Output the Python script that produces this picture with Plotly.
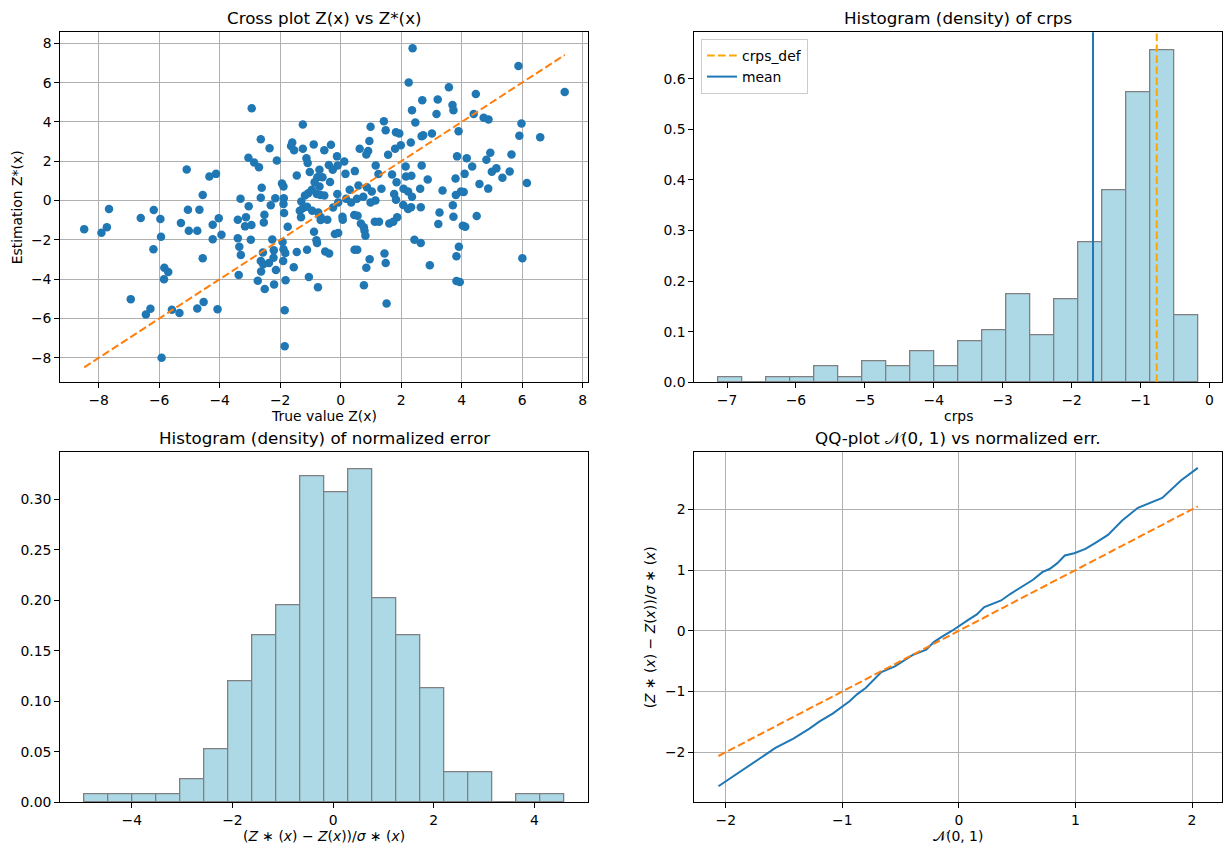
import plotly.graph_objects as go

# ---------------- data ----------------
true_z = [2.38, 5.88, 2.25, 3.58, 7.41, 4.47, 2.70, 3.21, 3.70, 3.73, 3.17, 2.36, -2.94, -1.25, 2.47, 4.40,
          4.73, 4.89, 5.98, 1.43, 0.99, 1.49, 1.83, 1.94, 3.02, 3.90, 2.68, 2.73, 5.91, 6.60, 2.32, -2.64,
          -2.35, -1.60, -1.64, -1.54, -1.25, -0.89, -0.32, -0.54, 0.95, 0.63, 0.91, 0.85, 1.57, 1.80, 1.99,
          -3.05, -2.86, -2.70, -2.11, -1.13, -1.09, -0.12, 0.12, -0.39, -0.26, -0.10, 3.85, 4.17, 4.35, 4.95,
          4.82, 5.65, 5.15, 5.00, 5.59, 5.35, 6.16, 2.15, 2.68, 1.16, 1.70, 2.16, 2.34, 2.88, 3.80, 4.10,
          4.59, 4.88, -5.09, -4.34, -4.12, -4.56, -3.31, -2.61, -2.64, -3.04, -1.94, -1.89, -2.16, -1.88,
          -2.31, -1.89, -1.45, -1.02, -0.70, -0.77, -0.60, -0.86, -0.70, -0.67, -0.54, -0.79, -1.18, -1.07,
          -0.11, -0.08, 0.18, 0.16, 0.47, 0.59, 0.54, 0.87, 1.03, 0.99, 1.15, 1.35, 1.85, 1.77, 1.83, 2.08,
          2.23, 2.36, 2.07, 2.23, 2.33, 2.63, 2.65, 3.37, 3.81, 3.98, 4.07, 3.71, 3.27, 3.73, 4.50, 3.23,
          4.04, 4.12, 2.44, 2.65, 3.91, 3.83, 2.95, 3.83, 3.94, 6.01, -8.48, -7.91, -7.73, -7.66, -6.61,
          -6.18, -5.96, -5.94, -6.19, -5.83, -5.70, -5.84, -6.94, -6.44, -6.29, -5.92, -5.58, -5.33, -5.28,
          -5.05, -5.02, -4.74, -4.67, -4.56, -4.74, -4.53, -4.07, -4.23, -4.03, -4.23, -3.94, -3.40, -3.13,
          -3.16, -2.95, -3.40, -3.35, -3.30, -2.97, -2.52, -2.54, -3.37, -2.57, -2.64, -2.56, -2.63, -2.74,
          -2.51, -2.26, -2.21, -2.22, -2.37, -2.14, -2.20, -1.92, -1.89, -1.83, -1.90, -1.82, -1.85, -1.85,
          -1.55, -1.45, -1.75, -1.87, -1.35, -1.31, -1.24, -1.11, -0.94, -0.74, -0.66, -0.44, -0.66, -0.88,
          -0.80, -0.78, -1.11, -1.05, -0.75, -0.51, -0.38, -0.19, -0.08, 0.06, 0.07, 0.45, 0.56, 0.67, 0.77,
          0.79, 0.82, 0.46, 0.55, 0.96, 0.85, 0.77, 1.13, 1.27, 1.45, 1.49, 1.52, 1.61, 1.74, 1.87,
          -0.35, -0.95, 0.30, -0.25, 0.35, 1.25, -1.30, 0.75]
est_z = [7.75, 6.85, 6.01, 5.76, 5.52, 5.42, 5.11, 5.14, 4.86, 4.60, 4.40, 4.60, 4.70, 3.87, 3.97, 4.40,
         4.22, 4.12, 3.92, 4.04, 3.76, 3.58, 3.48, 3.41, 3.41, 3.53, 3.27, 3.32, 3.30, 3.22, 2.95, 3.12,
         2.66, 2.95, 2.78, 2.56, 2.64, 2.86, 2.84, 2.56, 3.03, 2.64, 2.52, 2.35, 2.33, 2.64, 2.81,
         2.18, 1.94, 1.70, 2.04, 2.16, 1.91, 2.25, 1.99, 1.81, 1.57, 1.79, 2.25, 2.16, 1.74, 2.44,
         2.08, 2.35, 1.64, 1.47, 1.48, 1.16, 0.90, 1.74, 1.79, 1.79, 1.33, 1.23, 1.26, 1.07, 1.12, 1.36,
         0.85, 0.61, 1.58, 1.23, 1.36, 0.29, 0.10, 0.65, 0.15, -0.29, 0.87, 0.72, 0.12, 0.12,
         -0.24, -0.17, 1.28, 1.45, 1.57, 1.19, 1.19, 0.94, 0.72, 0.29, 0.26, 0.34, 0.26, 0.37,
         0.34, -0.09, 0.09, 1.36, 1.50, 0.77, 0.09, 0.68, 0.46, -0.09, 0.00, 0.60, 0.94, 0.34, 0.05, 0.60,
         0.46, 0.20, -0.22, -0.43, -0.34, 0.60, -0.34, 0.51, 0.29, 0.46, 0.44, -0.24, -0.61, -0.82, -0.78, -1.19,
         -1.28, -1.33, -1.99, -2.15, -2.35, -2.83, -3.29, -4.09, -4.14, -2.93, -1.45, -1.64, -1.35, -0.43, -0.89,
         -0.48, -0.94, -1.84, -2.47, -3.42, -3.63, -4.00, -5.01, -5.79, -5.50, -7.99, -5.55, -5.71, -1.14,
         -0.46, -1.53, -1.53, -0.46, -2.93, -5.49, -5.16, -5.52, -1.23, -0.90, -1.96, -1.74, -0.97, -0.85,
         -1.31, -1.24, -1.91, -2.35, -2.76, -1.99, -0.72, -1.11, -3.78, -2.64, -3.07, -3.24, -3.61, -4.07,
         -4.50, -1.98, -2.52, -2.90, -3.17, -3.53, -4.26, -2.10, -2.47, -2.67, -3.07, -4.05, -5.57, -7.41,
         -3.39, -2.61, -1.33, -0.63, -0.51, -0.85, -0.37, -0.31, -0.51, -0.60, -0.85, -0.97, -0.99, -1.58,
         -2.01, -2.16, -2.50, -3.88, -4.40, -2.59, -2.69, -1.70, -1.65, -0.82, -0.97, -0.73, -0.77, -1.16, -1.36,
         -1.53, -1.79, -2.50, -2.50, -2.98, -3.41, -4.31, -1.07, -1.07, -2.69, -3.17, -5.23, -1.16, -1.07, -0.85,
         0.95, 0.55, 0.55, -0.35, -0.10, 1.35, -0.05, 0.20]

crps_edges_start = -7.13
crps_bin_width = 0.3485
crps_counts = [1, 0, 1, 1, 3, 1, 4, 3, 6, 3, 8, 10, 17, 9, 16, 27, 37, 56, 64, 13]
crps_mean = -1.69
crps_def = -0.765

err_edges_start = -4.94
err_bin_width = 0.4765
err_counts = [1, 1, 1, 1, 3, 7, 16, 22, 26, 43, 41, 44, 27, 22, 15, 4, 4, 0, 1, 1]

qq_theo = [-2.063, -1.574, -1.420, -1.282, -1.195, -1.083, -0.938, -0.874, -0.800, -0.665, -0.549, -0.472,
           -0.392, -0.280, -0.215, -0.151, -0.055, 0.074, 0.154, 0.218, 0.299, 0.363, 0.443, 0.524, 0.636,
           0.716, 0.781, 0.845, 0.909, 0.990, 1.086, 1.182, 1.279, 1.401, 1.471, 1.536, 1.745, 1.905, 2.050]
qq_emp = [-2.562, -1.931, -1.778, -1.613, -1.492, -1.366, -1.163, -1.048, -0.944, -0.680, -0.587, -0.488,
          -0.395, -0.313, -0.187, -0.104, 0.005, 0.170, 0.269, 0.390, 0.455, 0.499, 0.609, 0.708, 0.840,
          0.966, 1.021, 1.114, 1.240, 1.278, 1.350, 1.460, 1.580, 1.816, 1.926, 2.025, 2.189, 2.475, 2.683]

# ---------------- layout helpers ----------------
W, H = 1232, 859
FONT = "DejaVu Sans"
TICK = 13.9
TITLE = 16.7
BLUE = "#1f77b4"
ORANGE = "#ff7f0e"


def px(x):
    return x / W


def py(y):
    return 1 - y / H


cols = [(60.3, 588.3), (694.3, 1222.3)]
rows = [(32.3, 382.3), (452.3, 802.3)]

fig = go.Figure()

# --- cross plot ---
fig.add_trace(go.Scatter(x=true_z, y=est_z, mode="markers", xaxis="x", yaxis="y",
                         marker=dict(color=BLUE, size=8.5), showlegend=False))
zmin, zmax = min(true_z), max(true_z)
fig.add_trace(go.Scatter(x=[zmin, zmax], y=[zmin, zmax], mode="lines", xaxis="x", yaxis="y",
                         line=dict(color=ORANGE, width=2, dash="7.7px,3.3px"), showlegend=False))

# --- crps histogram ---
n_crps = sum(crps_counts)
crps_centers = [crps_edges_start + (i + 0.5) * crps_bin_width for i in range(len(crps_counts))]
crps_dens = [c / (n_crps * crps_bin_width) for c in crps_counts]
fig.add_trace(go.Bar(x=crps_centers, y=crps_dens, width=crps_bin_width, xaxis="x2", yaxis="y2",
                     marker=dict(color="#add8e6", line=dict(color="gray", width=1.3)), showlegend=False))
fig.add_trace(go.Scatter(x=[crps_def, crps_def], y=[-1, 2], mode="lines", xaxis="x2", yaxis="y2",
                         name="crps_def", line=dict(color="#ffa500", width=2, dash="7.7px,3.3px")))
fig.add_trace(go.Scatter(x=[crps_mean, crps_mean], y=[-1, 2], mode="lines", xaxis="x2", yaxis="y2",
                         name="mean", line=dict(color=BLUE, width=2)))

# --- normalized error histogram ---
n_err = sum(err_counts)
err_centers = [err_edges_start + (i + 0.5) * err_bin_width for i in range(len(err_counts))]
err_dens = [c / (n_err * err_bin_width) for c in err_counts]
fig.add_trace(go.Bar(x=err_centers, y=err_dens, width=err_bin_width, xaxis="x3", yaxis="y3",
                     marker=dict(color="#add8e6", line=dict(color="gray", width=1.3)), showlegend=False))

# --- QQ plot ---
fig.add_trace(go.Scatter(x=qq_theo, y=qq_emp, mode="lines", xaxis="x4", yaxis="y4",
                         line=dict(color=BLUE, width=2), showlegend=False))
qmin, qmax = min(qq_theo), max(qq_theo)
fig.add_trace(go.Scatter(x=[qmin, qmax], y=[qmin, qmax], mode="lines", xaxis="x4", yaxis="y4",
                         line=dict(color=ORANGE, width=2, dash="7.7px,3.3px"), showlegend=False))


def axis(domain, rng, tickvals, fmt=None, grid=False, anchor=None):
    d = dict(domain=domain, range=rng, tickvals=tickvals, showgrid=grid, gridcolor="#b0b0b0",
             gridwidth=1.1, zeroline=False, showline=True, mirror=True, linecolor="black",
             linewidth=1.1, ticks="outside", ticklen=5, tickwidth=1.1, tickcolor="black",
             tickfont=dict(family=FONT, size=TICK, color="black"), automargin=False,
             anchor=anchor, fixedrange=True)
    if fmt:
        d["tickformat"] = fmt
    return d


xd = [[px(a), px(b)] for a, b in cols]
yd = [[py(b), py(a)] for a, b in rows]

fig.update_layout(
    width=W, height=H, margin=dict(l=0, r=0, t=0, b=0), template="none",
    paper_bgcolor="white", plot_bgcolor="white", bargap=0,
    font=dict(family=FONT, size=TICK, color="black"),
    xaxis=axis(xd[0], [-9.27, 8.19], list(range(-8, 9, 2)), grid=True, anchor="y"),
    yaxis=axis(yd[0], [-9.24, 8.56], list(range(-8, 9, 2)), grid=True, anchor="x"),
    xaxis2=axis(xd[1], [-7.475, 0.186], list(range(-7, 1)), anchor="y2"),
    yaxis2=axis(yd[0], [0, 0.692], [0, 0.1, 0.2, 0.3, 0.4, 0.5, 0.6], fmt=".1f", anchor="x2"),
    xaxis3=axis(xd[0], [-5.42, 5.07], [-4, -2, 0, 2, 4], anchor="y3"),
    yaxis3=axis(yd[1], [0, 0.3465], [0, 0.05, 0.1, 0.15, 0.2, 0.25, 0.3], fmt=".2f", anchor="x3"),
    xaxis4=axis(xd[1], [-2.27, 2.26], [-2, -1, 0, 1, 2], grid=True, anchor="y4"),
    yaxis4=axis(yd[1], [-2.826, 2.94], [-2, -1, 0, 1, 2], grid=True, anchor="x4"),
    legend=dict(x=px(701), y=py(39), xanchor="left", yanchor="top",
                bgcolor="rgba(255,255,255,0.8)", bordercolor="#cccccc", borderwidth=1,
                font=dict(family=FONT, size=TICK, color="black"), tracegroupgap=0),
)

anns = []


def ann(text, x, y, size=TICK, angle=0, xanchor="center", yanchor="middle"):
    anns.append(dict(text=text, x=px(x), y=py(y), xref="paper", yref="paper", showarrow=False,
                     xanchor=xanchor, yanchor=yanchor, textangle=angle,
                     font=dict(family=FONT, size=size, color="black")))


titles = ["Cross plot Z(x) vs Z*(x)", "Histogram (density) of crps",
          "Histogram (density) of normalized error", "QQ-plot 𝒩(0, 1) vs normalized err."]
for i, t in enumerate(titles):
    r, c = divmod(i, 2)
    ann(t, (cols[c][0] + cols[c][1]) / 2, rows[r][0] - 14, size=TITLE)

err_label = "(<i>Z</i> ∗ (<i>x</i>) − <i>Z</i>(<i>x</i>))/<i>σ</i> ∗ (<i>x</i>)"
xlabels = ["True value Z(x)", "crps", err_label, "𝒩(0, 1)"]
for i, t in enumerate(xlabels):
    r, c = divmod(i, 2)
    ann(t, (cols[c][0] + cols[c][1]) / 2, rows[r][1] + 34)

ann("Estimation Z*(x)", 17, (rows[0][0] + rows[0][1]) / 2, angle=-90)
ann(err_label, 650, (rows[1][0] + rows[1][1]) / 2, angle=-90)

fig.update_layout(annotations=anns)
fig.write_html("out.html")
